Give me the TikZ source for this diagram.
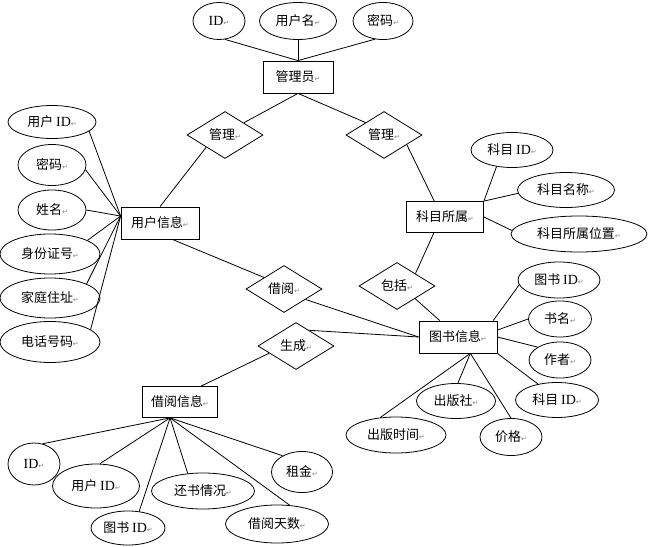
\documentclass[tikz,border=0pt]{standalone}
\usepackage{fontspec}
\setmainfont{Liberation Serif}
\newfontfamily\cjk{Noto Sans CJK SC}
\newfontfamily\symf{DejaVu Sans}
\usetikzlibrary{shapes.geometric}
\newcommand\retmark{{\symf\color{gray}\fontsize{7}{7}\selectfont ↵}}
\newcommand\IDt{{\rmfamily\fontsize{14}{14}\selectfont ID}}
\begin{document}
\begin{tikzpicture}[x=1bp,y=-1bp,
  every node/.style={font=\cjk\fontsize{13}{14}\selectfont, inner sep=0pt},
  attr/.style={draw, ellipse, line width=0.8bp},
  ent/.style={draw, rectangle, line width=0.8bp},
  rel/.style={draw, diamond, line width=0.8bp, minimum width=76bp, minimum height=47bp},
  conn/.style={line width=0.8bp}]
\useasboundingbox[fill=white] (0,0) rectangle (651,547);

% entities
\node[ent, minimum width=70bp, minimum height=32bp] (admin) at (298,77) {管理员\retmark};
\node[ent, minimum width=78bp, minimum height=32bp] (uinfo) at (160,223) {用户信息\retmark};
\node[ent, minimum width=77bp, minimum height=31bp] (kemu) at (445,217) {科目所属\retmark};
\node[ent, minimum width=78bp, minimum height=32bp] (tinfo) at (458,337) {图书信息\retmark};
\node[ent, minimum width=75bp, minimum height=31bp] (binfo) at (180,402) {借阅信息\retmark};

% relations
\node[rel] (m1) at (225,135) {管理\retmark};
\node[rel] (m2) at (384,135) {管理\retmark};
\node[rel] (jie) at (284,289) {借阅\retmark};
\node[rel] (gen) at (296,346) {生成\retmark};
\node[rel] (bao) at (397,286) {包括\retmark};

% admin attributes
\node[attr, minimum width=52bp, minimum height=37bp] (aid) at (219,21) {\IDt\retmark};
\node[attr, minimum width=77bp, minimum height=37bp] (aname) at (298,21) {用户名\retmark};
\node[attr, minimum width=60bp, minimum height=37bp] (apw) at (383,21) {密码\retmark};

% user attributes
\node[attr, minimum width=88bp, minimum height=33bp] (uid) at (52,122) {用户 \IDt\retmark};
\node[attr, minimum width=68bp, minimum height=41bp] (upw) at (52,165) {密码\retmark};
\node[attr, minimum width=68bp, minimum height=40bp] (uname) at (52,210) {姓名\retmark};
\node[attr, minimum width=100bp, minimum height=40bp] (ucard) at (50,254) {身份证号\retmark};
\node[attr, minimum width=100bp, minimum height=40bp] (uaddr) at (50,298) {家庭住址\retmark};
\node[attr, minimum width=100bp, minimum height=41bp] (utel) at (50,342) {电话号码\retmark};

% subject attributes
\node[attr, minimum width=82bp, minimum height=35bp] (kid) at (512,150) {科目 \IDt\retmark};
\node[attr, minimum width=97bp, minimum height=35bp] (kname) at (566,190) {科目名称\retmark};
\node[attr, minimum width=136bp, minimum height=36bp] (kloc) at (579,234) {科目所属位置\retmark};

% book attributes
\node[attr, minimum width=82bp, minimum height=36bp] (tid) at (559,280) {图书 \IDt\retmark};
\node[attr, minimum width=63bp, minimum height=36bp] (tname) at (560,319) {书名\retmark};
\node[attr, minimum width=62bp, minimum height=36bp] (tauth) at (560,360) {作者\retmark};
\node[attr, minimum width=83bp, minimum height=35bp] (tkid) at (557,400) {科目 \IDt\retmark};
\node[attr, minimum width=79bp, minimum height=35bp] (tpub) at (456,401) {出版社\retmark};
\node[attr, minimum width=62bp, minimum height=37bp] (tprice) at (511,437) {价格\retmark};
\node[attr, minimum width=100bp, minimum height=36bp] (ttime) at (396,435) {出版时间\retmark};

% borrow attributes
\node[attr, minimum width=52bp, minimum height=42bp] (bid) at (34,464) {\IDt\retmark};
\node[attr, minimum width=87bp, minimum height=44bp] (buid) at (96,486) {用户 \IDt\retmark};
\node[attr, minimum width=74bp, minimum height=34bp] (btid) at (128,528) {图书 \IDt\retmark};
\node[attr, minimum width=103bp, minimum height=36bp] (bret) at (203,491) {还书情况\retmark};
\node[attr, minimum width=103bp, minimum height=38bp] (bdays) at (277,524) {借阅天数\retmark};
\node[attr, minimum width=61bp, minimum height=41bp] (brent) at (302,472) {租金\retmark};

% connectors
\draw[conn] (aid.-72) -- (admin.north);
\draw[conn] (aname.south) -- (admin.north);
\draw[conn] (apw.-114) -- (admin.north);
\draw[conn] (admin.south) -- (m1.33);
\draw[conn] (admin.south) -- (m2.146);
\draw[conn] (m1.-147) -- (uinfo.north);
\draw[conn] (m2.-23) -- (kemu.124);

\draw[conn] (uid.-14) -- (uinfo.170);
\draw[conn] (upw.-8) -- (uinfo.170);
\draw[conn] (uname.east) -- (uinfo.170);
\draw[conn] (ucard.20) -- (uinfo.170);
\draw[conn] (uaddr.21) -- (uinfo.170);
\draw[conn] (utel.17) -- (uinfo.170);

\draw[conn] (kid.-133) -- (kemu.north east);
\draw[conn] (kname.-176) -- (kemu.north east);
\draw[conn] (kloc.177) -- (kemu.east);
\draw[conn] (kemu.-125) -- (bao.34);
\draw[conn] (bao.-35) -- (tinfo.138);

\draw[conn] (uinfo.-53) -- (jie.150);
\draw[conn] (jie.-26) -- (tinfo.west);
\draw[conn] (gen.50) -- (tinfo.west);
\draw[conn] (gen.-165) -- (binfo.37);

\draw[conn] (tid.-173) -- (tinfo.25);
\draw[conn] (tname.west) -- (tinfo.10);
\draw[conn] (tauth.150) -- (tinfo.east);
\draw[conn] (tkid.140) -- (tinfo.south east);
\draw[conn] (tpub.84) -- (tinfo.-53);
\draw[conn] (tprice.north) -- (tinfo.-53);
\draw[conn] (ttime.132) -- (tinfo.-53);

\draw[conn] (bid.67) -- (binfo.-122);
\draw[conn] (buid.80) -- (binfo.-122);
\draw[conn] (btid.56) -- (binfo.-122);
\draw[conn] (bret.131) -- (binfo.-122);
\draw[conn] (bdays.56) -- (binfo.-122);
\draw[conn] (brent.140) -- (binfo.-122);
\end{tikzpicture}
\end{document}
